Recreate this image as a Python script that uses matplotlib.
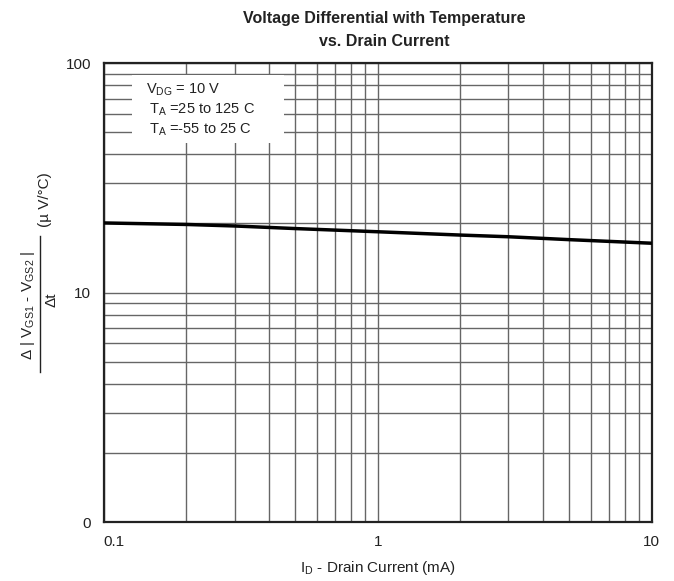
import numpy as np
import matplotlib.pyplot as plt
from matplotlib.ticker import FixedLocator, NullFormatter

plt.rcParams['font.family'] = ['Liberation Sans', 'DejaVu Sans']

# courant de drain (mA) et derive en tension (uV/C)
id_ma = np.array([0.1, 0.2, 0.3, 0.5, 1.0, 2.0, 3.0, 5.0, 10.0])
dv_dt = np.array([20.1, 19.8, 19.5, 19.0, 18.4, 17.8, 17.5, 17.0, 16.4])

x_ticks = [0.1, 1, 10]
x_labels = ['0.1', '1', '10']
y_ticks = [1, 10, 100]
y_labels = ['0', '10', '100']

fig = plt.figure(figsize=(6.74, 5.81), dpi=100)
ax = fig.add_axes([0.154, 0.1015, 0.813, 0.790])
ax.set_xscale('log')
ax.set_yscale('log')
ax.set_xlim(0.1, 10)
ax.set_ylim(1, 100)

# grille log complete
ax.xaxis.set_minor_locator(FixedLocator([m * d for d in [0.1, 1] for m in range(2, 10)]))
ax.yaxis.set_minor_locator(FixedLocator([m * d for d in [1, 10] for m in range(2, 10)]))
ax.xaxis.set_minor_formatter(NullFormatter())
ax.yaxis.set_minor_formatter(NullFormatter())
ax.grid(True, which='both', color='#666666', lw=1.0)
ax.set_axisbelow(True)

ax.plot(id_ma, dv_dt, color='black', lw=2.5, zorder=3)

ax.set_xticks(x_ticks)
ax.set_xticklabels(x_labels, fontsize=11, color='#222222')
ax.set_yticks(y_ticks)
ax.set_yticklabels(y_labels, fontsize=11, color='#222222')
ax.tick_params(which='both', length=0, pad=9)
ax.get_xticklabels()[0].set_ha('left')
for s in ax.spines.values():
    s.set_linewidth(1.6)
    s.set_color('#222222')

# cadre de la legende
box = plt.Rectangle((132 / 674, 1 - 143 / 581), 152 / 674, 68 / 581,
                    transform=fig.transFigure, facecolor='white', edgecolor='none', zorder=2)
ax.add_patch(box)
box.set_clip_on(False)
lx = 146 / 674
fig.text(lx, 1 - 90 / 581, r'V$_{\mathregular{DG}}$ = 10 V', fontsize=10.5, va='center', color='#222222')
fig.text(lx + 0.004, 1 - 110 / 581, r'T$_{\mathregular{A}}$ =25 to 125 C', fontsize=10.5, va='center', color='#222222')
fig.text(lx + 0.004, 1 - 130 / 581, r'T$_{\mathregular{A}}$ =-55 to 25 C', fontsize=10.5, va='center', color='#222222')

fig.text(0.570, 1 - 18 / 581, 'Voltage Differential with Temperature', ha='center', va='center',
         fontsize=11.5, fontweight='bold', color='#222222')
fig.text(0.570, 1 - 42 / 581, 'vs. Drain Current', ha='center', va='center',
         fontsize=11.5, fontweight='bold', color='#222222')
fig.text(0.561, 1 - 568 / 581, r'I$_{\mathregular{D}}$ - Drain Current (mA)', ha='center', va='center',
         fontsize=11, color='#222222')

# etiquette y en fraction
fig.text(28 / 674, 1 - 305 / 581, r'Δ | V$_{\mathregular{GS1}}$ - V$_{\mathregular{GS2}}$ |',
         rotation=90, fontsize=11, ha='center', va='center', color='#222222')
fig.text(52 / 674, 1 - 300 / 581, 'Δt', rotation=90, fontsize=11,
         ha='center', va='center', color='#222222')
fig.add_artist(plt.Line2D([40 / 674, 40 / 674], [1 - 372 / 581, 1 - 236 / 581],
                          transform=fig.transFigure, color='#222222', lw=1))
fig.text(45 / 674, 1 - 200 / 581, '(µ V/°C)', rotation=90, fontsize=11,
         ha='center', va='center', color='#222222')

fig.savefig('out.png', dpi=100)
